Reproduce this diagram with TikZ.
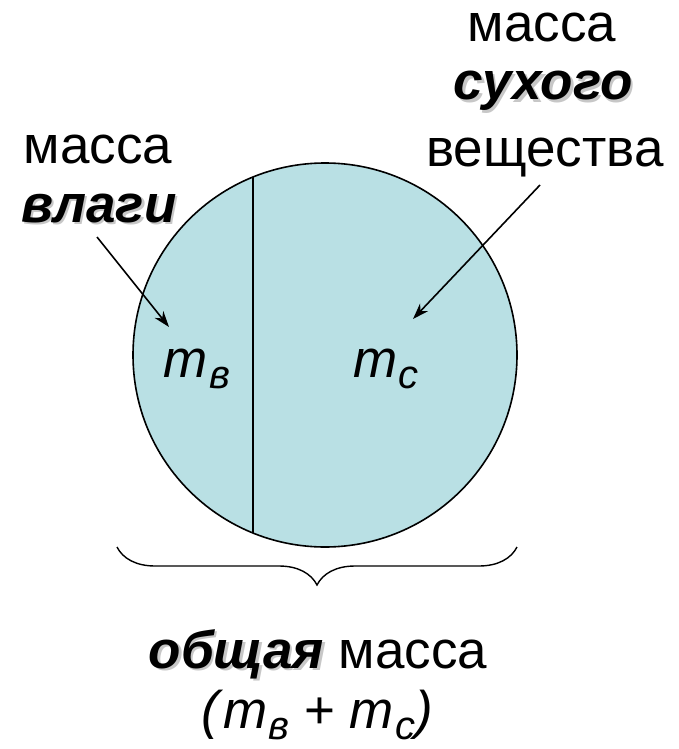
\documentclass[tikz,border=0pt]{standalone}
\usepackage{fontspec}
\setmainfont{Liberation Sans}
\usetikzlibrary{arrows.meta,decorations.pathreplacing}
\definecolor{fillblue}{RGB}{185,224,228}
\newcommand\shd[1]{\leavevmode\rlap{\kern2.5pt\raisebox{-2.5pt}{\textcolor{black!22}{#1}}}#1}
\newcommand\bi[1]{\shd{\textbf{\textit{#1}}}}
\newcommand\msub[1]{\textit{m}\kern1pt\raisebox{-11pt}{\fontsize{40}{40}\selectfont\textit{#1}}}
\begin{document}
\begin{tikzpicture}[x=1pt,y=-1pt,
  lbl/.style={inner sep=0pt,anchor=base,font=\fontsize{53}{60}\selectfont},
  arr/.style={line width=1.6pt,-{Stealth[length=16pt,width=11pt,inset=5pt]}},
  outline/.style={line width=1.6pt}]
\useasboundingbox (0,0) rectangle (679,749);
\node[circle,draw,outline,fill=fillblue,minimum size=384pt,inner sep=0pt] (circ) at (325,355) {};
\coordinate (vt) at (253,177);
\coordinate (vb) at (253,533);
\draw[outline] (vt) -- (vb);
% labels in circle
\node[lbl] (mv) at (197,377) {\msub{в}};
\node[lbl] (mc) at (386,377) {\msub{с}};
% top right label
\node[lbl] (t1) at (542,42) {масса};
\node[lbl] (t2) at (543,100) {\bi{сухого}};
\node[lbl] (t3) at (545,166) {вещества};
% left label
\node[lbl] (l1) at (98,163) {масса};
\node[lbl] (l2) at (99,222) {\bi{влаги}};
% arrows
\coordinate (a1s) at (97,237);
\coordinate (a1e) at (169,327);
\coordinate (a2s) at (540,185);
\coordinate (a2e) at (413,319);
\draw[arr] (a1s) -- (a1e);
\draw[arr] (a2s) -- (a2e);
% brace
\coordinate (bl) at (117,547);
\coordinate (br) at (517,547);
\draw[line width=1.4pt,decorate,decoration={brace,mirror,amplitude=38pt,aspect=0.5}] (bl) -- (br);
% bottom text
\node[lbl] (b1) at (318,668) {\bi{общая} масса};
\node[lbl] (b2) at (317,728) {\textit{(}\msub{в} + \msub{с}\textit{)}};
\end{tikzpicture}
\end{document}
